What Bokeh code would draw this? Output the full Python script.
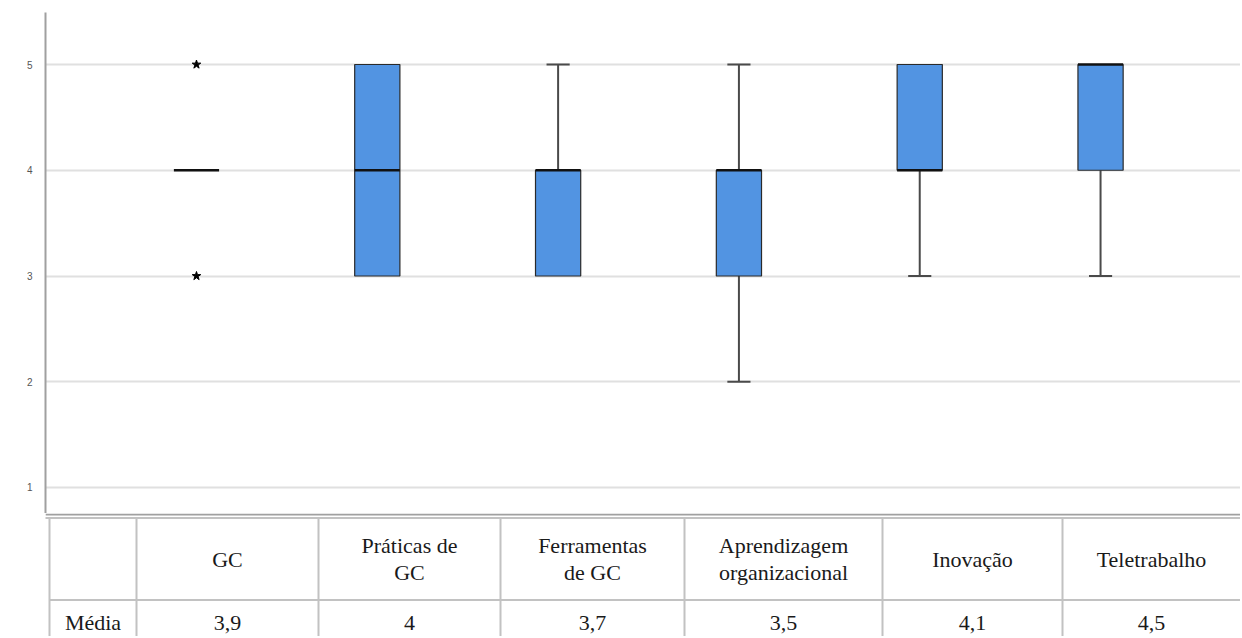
from bokeh.plotting import figure
from bokeh.layouts import column
from bokeh.models import Range1d, FixedTicker
from bokeh.core.properties import value
from bokeh.embed import file_html
from bokeh.resources import INLINE

# ---------------- data ----------------
categories = ["GC", "Práticas de GC", "Ferramentas de GC",
              "Aprendizagem organizacional", "Inovação", "Teletrabalho"]
header_lines = [["GC"], ["Práticas de", "GC"], ["Ferramentas", "de GC"],
                ["Aprendizagem", "organizacional"], ["Inovação"], ["Teletrabalho"]]
q1 = [4, 3, 3, 3, 4, 4]
median = [4, 4, 4, 4, 4, 5]
q3 = [4, 5, 4, 4, 5, 5]
whisker_low = [4, 3, 3, 2, 3, 3]
whisker_high = [4, 5, 5, 5, 5, 5]
outlier_cat = [0, 0]
outlier_val = [5, 3]
mean_label = "Média"
means = ["3,9", "4", "3,7", "3,5", "4,1", "4,5"]
y_ticks = [1, 2, 3, 4, 5]

# ---------------- layout constants ----------------
W = 1240
TOP_H = 513
TAB_H = 123
LEFT = 45
BOX_HALF = 0.125
CAP_HALF = 0.064
BOX_COLOR = "#5294E2"
SERIF = "Liberation Serif"
FONT_PX = "22px"

xpos = list(range(len(categories)))

top = figure(width=W, height=TOP_H, x_range=Range1d(-0.835, 5.774),
             y_range=Range1d(0.754, 5.492), output_backend="svg",
             toolbar_location=None, min_border_left=LEFT, min_border_top=12,
             min_border_bottom=0, min_border_right=0)
top.xaxis.visible = False
top.xgrid.visible = False
top.outline_line_color = None
top.background_fill_color = "white"
top.border_fill_color = "white"
yax = top.yaxis[0]
yax.ticker = FixedTicker(ticks=y_ticks)
yax.major_tick_line_color = None
yax.minor_tick_line_color = None
yax.axis_line_color = "#a0a0a0"
yax.axis_line_width = 2
yax.major_label_text_font = "Liberation Sans"
yax.major_label_text_font_size = "10px"
yax.major_label_text_color = "#555555"
yax.major_label_standoff = 7
top.ygrid.grid_line_color = "#e0e0e0"
top.ygrid.grid_line_width = 2

# whiskers
wl_x, wl_y0, wl_y1 = [], [], []
cap_x0, cap_x1, cap_y = [], [], []
for i in xpos:
    if whisker_high[i] > q3[i]:
        wl_x.append(xpos[i]); wl_y0.append(q3[i]); wl_y1.append(whisker_high[i])
        cap_x0.append(xpos[i] - CAP_HALF); cap_x1.append(xpos[i] + CAP_HALF); cap_y.append(whisker_high[i])
    if whisker_low[i] < q1[i]:
        wl_x.append(xpos[i]); wl_y0.append(q1[i]); wl_y1.append(whisker_low[i])
        cap_x0.append(xpos[i] - CAP_HALF); cap_x1.append(xpos[i] + CAP_HALF); cap_y.append(whisker_low[i])
top.segment(x0=wl_x, y0=wl_y0, x1=wl_x, y1=wl_y1, line_color="#4a4a4a", line_width=2)
top.segment(x0=cap_x0, y0=cap_y, x1=cap_x1, y1=cap_y, line_color="#4a4a4a", line_width=2)

# boxes
bx, bb, bt = [], [], []
for i in xpos:
    if q3[i] > q1[i]:
        bx.append(xpos[i]); bb.append(q1[i]); bt.append(q3[i])
top.vbar(x=bx, bottom=bb, top=bt, width=2 * BOX_HALF, fill_color=BOX_COLOR,
         line_color="#2a2a2a", line_width=1.2)

# medians
top.segment(x0=[x - BOX_HALF for x in xpos], y0=median,
            x1=[x + BOX_HALF for x in xpos], y1=median,
            line_color="#111111", line_width=2.5)

# outliers
top.scatter(x=outlier_cat, y=outlier_val, marker="star", size=9,
            fill_color="black", line_color="black")

# ---------------- table ----------------
col_edges = [49, 136, 318, 500, 684, 882, 1062, 1240]
Y0 = TOP_H
tab = figure(width=W, height=TAB_H, x_range=Range1d(LEFT, W),
             y_range=Range1d(Y0 + TAB_H, Y0), output_backend="svg",
             toolbar_location=None, min_border_left=LEFT, min_border_top=0,
             min_border_bottom=0, min_border_right=0)
tab.axis.visible = False
tab.grid.visible = False
tab.outline_line_color = None
tab.background_fill_color = "white"
tab.border_fill_color = "white"

ROW_TOP = 517.5
ROW_MID = 599.5
ROW_BOT = Y0 + TAB_H
RIGHT = W
# frame bottom line of chart
tab.segment(x0=[LEFT], y0=[Y0 + 1], x1=[RIGHT], y1=[Y0 + 1], line_color="#a0a0a0", line_width=2)
# table grid
tab.segment(x0=[9, col_edges[0]], y0=[ROW_TOP, ROW_MID], x1=[RIGHT, RIGHT],
            y1=[ROW_TOP, ROW_MID], line_color="#c2c2c2", line_width=2)
vx = col_edges[:-1]
tab.segment(x0=vx, y0=[ROW_TOP] * len(vx), x1=vx, y1=[ROW_BOT] * len(vx),
            line_color="#c2c2c2", line_width=2)

# header texts
hx, hy, ht = [], [], []
head_center = (ROW_TOP + ROW_MID) / 2
LINE_GAP = 27
for i, lines in enumerate(header_lines):
    cx = (col_edges[i + 1] + col_edges[i + 2]) / 2
    n = len(lines)
    for k, ln in enumerate(lines):
        hx.append(cx)
        hy.append(head_center + (k - (n - 1) / 2) * LINE_GAP)
        ht.append(ln)
tab.text(x=hx, y=hy, text=ht, text_font=value(SERIF), text_font_size=FONT_PX,
         text_color="#1a1a1a", text_align="center", text_baseline="middle")

# data row
mx = [(col_edges[0] + col_edges[1]) / 2] + [(col_edges[i + 1] + col_edges[i + 2]) / 2 for i in xpos]
mt = [mean_label] + means
tab.text(x=mx, y=[622] * len(mx), text=mt, text_font=value(SERIF), text_font_size=FONT_PX,
         text_color="#1a1a1a", text_align="center", text_baseline="middle")

layout = column(top, tab, spacing=0)
open("out.html", "w").write(file_html(layout, INLINE))
